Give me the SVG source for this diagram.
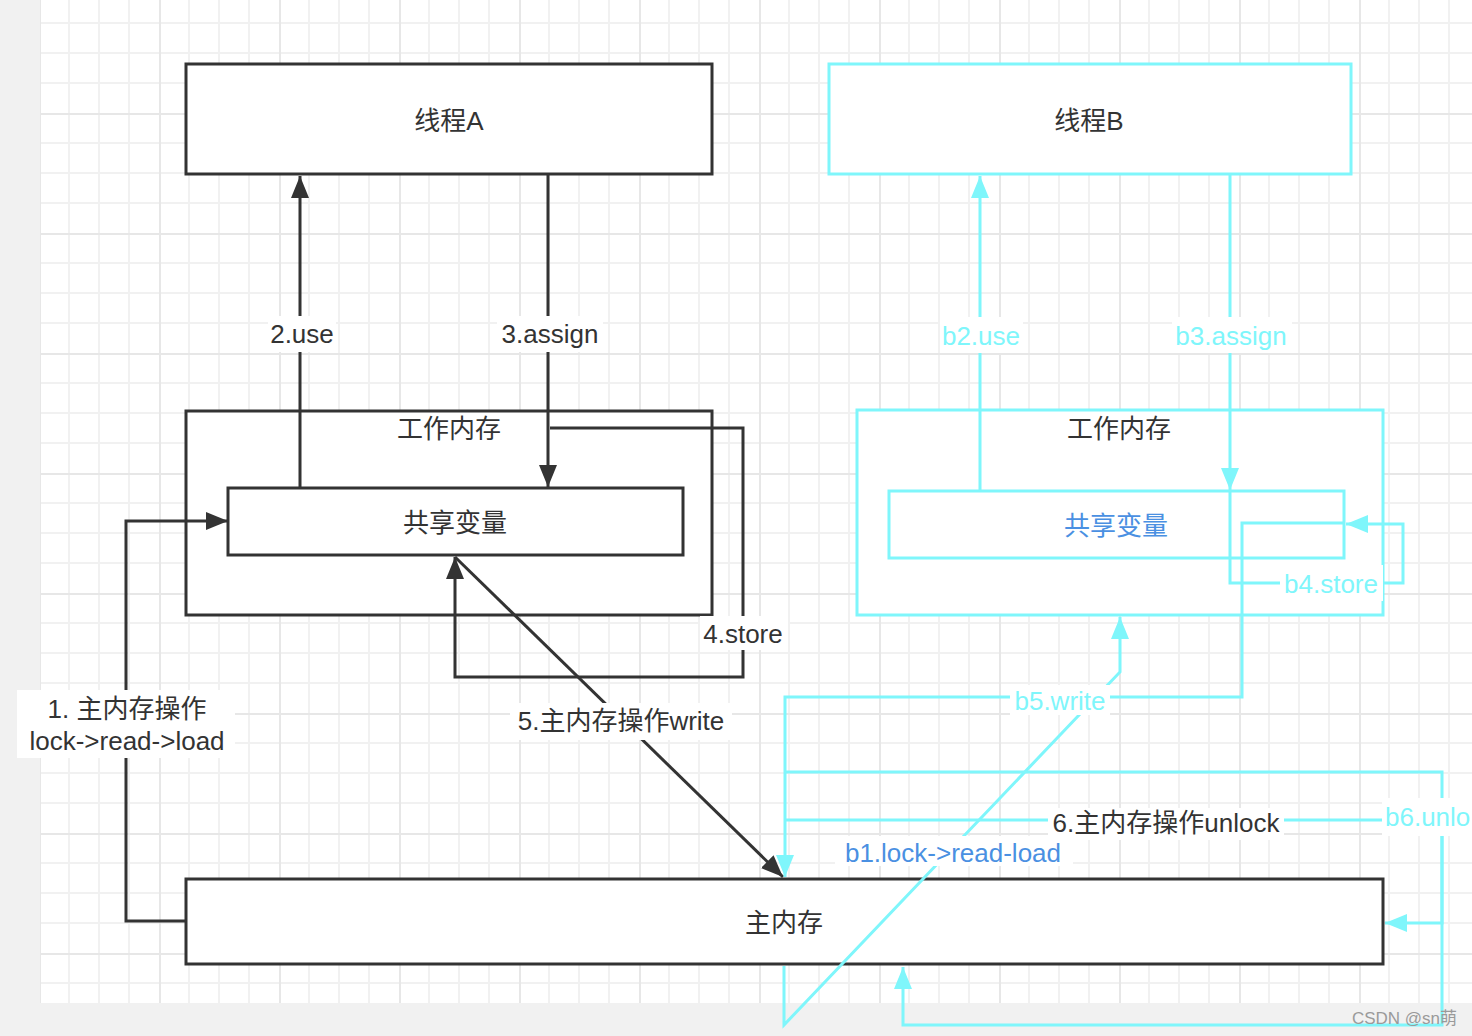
<svg xmlns="http://www.w3.org/2000/svg" width="1472" height="1036" viewBox="0 0 1472 1036">
<defs>
<pattern id="grid" x="39" y="-7" width="120" height="120" patternUnits="userSpaceOnUse">
<rect x="29" y="0" width="2" height="120" fill="#f1f1f1"/>
<rect x="59" y="0" width="2" height="120" fill="#f1f1f1"/>
<rect x="89" y="0" width="2" height="120" fill="#f1f1f1"/>
<rect x="0" y="29" width="120" height="2" fill="#f1f1f1"/>
<rect x="0" y="59" width="120" height="2" fill="#f1f1f1"/>
<rect x="0" y="89" width="120" height="2" fill="#f1f1f1"/>
<rect x="0" y="0" width="2" height="120" fill="#e7e7e7"/>
<rect x="0" y="0" width="120" height="2" fill="#e7e7e7"/>
</pattern>
<marker id="ab" markerWidth="24" markerHeight="20" refX="22" refY="9" orient="auto" markerUnits="userSpaceOnUse"><path d="M0,0 L22,9 L0,18 z" fill="#333333"/></marker>
<marker id="ac" markerWidth="24" markerHeight="20" refX="22" refY="9" orient="auto" markerUnits="userSpaceOnUse"><path d="M0,0 L22,9 L0,18 z" fill="#7ff6fb"/></marker>
<style>
.nb{fill:#ffffff;stroke:#333333;stroke-width:3}
.nc{fill:#ffffff;stroke:#7ff6fb;stroke-width:3}
.t{font-family:"Liberation Sans","Noto Sans CJK SC",sans-serif;font-size:26px;text-anchor:middle;dominant-baseline:central}
.dk{fill:#333333}
.cy{fill:#7ff6fb}
.bl{fill:#4a90e2}
.lb{fill:#ffffff}
.cb{fill:none;stroke:#333333;stroke-width:3;marker-end:url(#ab)}
.cc{fill:none;stroke:#7ff6fb;stroke-width:3;marker-end:url(#ac)}
</style>
</defs>
<rect x="0" y="0" width="1472" height="1036" fill="#f1f1f1"/>
<rect x="40" y="0" width="1432" height="1003" fill="#ffffff"/>
<rect x="40" y="0" width="1432" height="1003" fill="url(#grid)"/>

<g id="threadA"><rect class="nb" x="186" y="64" width="526" height="110"/><text class="t dk" x="449" y="121">线程A</text></g>
<g id="workA"><rect class="nb" x="186" y="411" width="526" height="204"/><text class="t dk" x="449" y="429">工作内存</text></g>
<g id="sharedA"><rect class="nb" x="228" y="488" width="455" height="67"/><text class="t dk" x="455" y="523">共享变量</text></g>
<g id="threadB"><rect class="nc" x="829" y="64" width="522" height="110"/><text class="t dk" x="1089" y="121">线程B</text></g>
<g id="workB"><rect class="nc" x="857" y="410" width="526" height="205"/><text class="t dk" x="1119" y="429">工作内存</text></g>
<g id="sharedB"><rect class="nc" x="889" y="491" width="455" height="67"/><text class="t bl" x="1116" y="526">共享变量</text></g>
<g id="mainMem"><rect class="nb" x="186" y="879" width="1197" height="85"/><text class="t dk" x="784" y="923">主内存</text></g>

<g id="connectors">
<path class="cb" d="M186,921 H126 V521 H228"/>
<path class="cb" d="M300,488 V176"/>
<path class="cb" d="M548,174 V487"/>
<path class="cb" d="M550,428 H743 V677 H455 V557"/>
<path class="cb" d="M455,557 L783,877"/>
<path class="cc" d="M980,491 V176"/>
<path class="cc" d="M1230,174 V490"/>
<path class="cc" d="M1230,491 V583 H1403 V524 H1346"/>
<path class="cc" d="M1344,523 H1242 V697 H785 V877"/>
<path class="cc" d="M784,966 V1025 L1120,672 V617"/>
<path class="cc" d="M785,820 H1442 V923 H1385"/>
<path class="cc" d="M785,772 H1442 V1025 H903 V967"/>
</g>

<g id="labels">
<rect class="lb" x="268" y="316" width="68" height="36"/><text class="t dk" x="302" y="334">2.use</text>
<rect class="lb" x="497" y="316" width="106" height="36"/><text class="t dk" x="550" y="334">3.assign</text>
<rect class="lb" x="700" y="616" width="88" height="34"/><text class="t dk" x="743" y="634">4.store</text>
<rect class="lb" x="510" y="703" width="222" height="37"/><text class="t dk" x="621" y="721">5.主内存操作write</text>
<rect class="lb" x="17" y="690" width="218" height="68"/><text class="t dk" x="127" y="709">1. 主内存操作</text><text class="t dk" x="127" y="741">lock-&gt;read-&gt;load</text>
<rect class="lb" x="940" y="317" width="83" height="36"/><text class="t cy" x="981" y="336">b2.use</text>
<rect class="lb" x="1172" y="317" width="120" height="36"/><text class="t cy" x="1231" y="336">b3.assign</text>
<rect class="lb" x="1280" y="565" width="103" height="36"/><text class="t cy" x="1331" y="584">b4.store</text>
<rect class="lb" x="1010" y="685" width="100" height="30"/><text class="t cy" x="1060" y="701">b5.write</text>
<rect class="lb" x="1048" y="808" width="236" height="32"/><text class="t dk" x="1166" y="823">6.主内存操作unlock</text>
<rect class="lb" x="835" y="836" width="238" height="30"/><text class="t bl" x="953" y="853">b1.lock-&gt;read-load</text>
<rect class="lb" x="1382" y="798" width="90" height="38"/><text class="t cy" x="1385" y="817" style="text-anchor:start">b6.unlo</text>
</g>
<text x="1457" y="1024" style="font-family:'Liberation Sans','Noto Sans CJK SC',sans-serif;font-size:17px;text-anchor:end" fill="#9a9a9a">CSDN @sn萌</text>
</svg>
